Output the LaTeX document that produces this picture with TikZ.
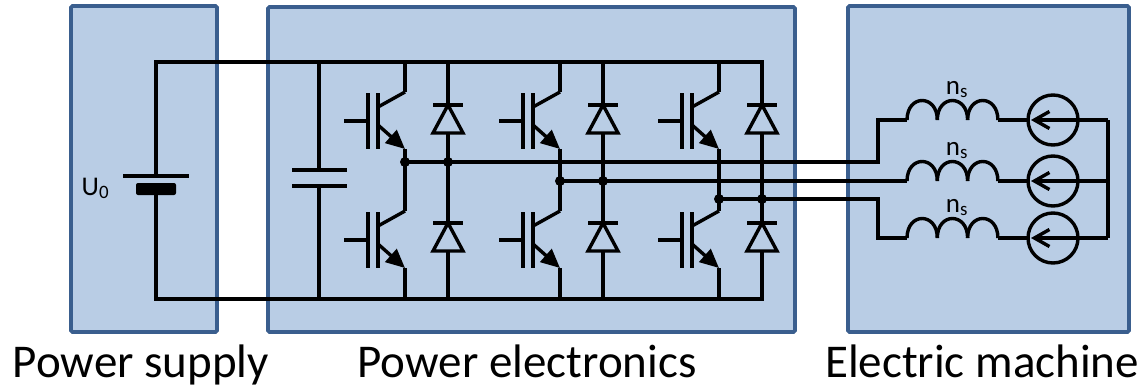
\documentclass[tikz,border=0pt]{standalone}
\usepackage{fontspec}
\setmainfont{Carlito}
\usepackage{tikz}
\usetikzlibrary{arrows.meta}
\definecolor{boxfill}{HTML}{B9CDE5}
\definecolor{boxline}{HTML}{3A5E8E}
\tikzset{>={Stealth[scale=1]}}
\tikzset{
    block/.style={fill=boxfill, draw=boxline, line width=3.6pt, rounded corners=1.5pt},
    junction/.style={circle, fill, inner sep=0pt, minimum size=10pt},
    caption/.style={font=\fontsize{47}{56}\selectfont, anchor=base, inner sep=0pt},
    lbl/.style={font=\fontsize{27}{30}\selectfont, inner sep=0pt},
    igbt/.pic={
        \draw (-27,15) -- (0,0);
        \draw[-{Triangle[length=19pt,width=17pt]}] (-27,33) -- (0,57);
        \draw (-27,1) -- (-27,57);
        \draw (-37,1) -- (-37,57);
        \draw (-37,29) -- (-61,29);
    },
    diode/.pic={
        \draw (-15,0) -- (15,0);
        \draw (0,0) -- (-15,28) -- (15,28) -- cycle;
    },
    coil/.pic={
        \foreach \k in {0,1,2}
            \draw ({\k*30.3},0) .. controls ({\k*30.3},-26) and ({\k*30.3+30.3},-26) .. ({\k*30.3+30.3},0);
    },
    emf/.pic={
        \draw (0,0) circle[radius=25];
        \draw[-{Straight Barb[length=15pt,width=17pt]}] (25,0) -- (-22,0);
    }
}
\begin{document}
\begin{tikzpicture}[x=1pt, y=-1pt, line width=3.4pt]
    \useasboundingbox (0,0) rectangle (1147,388);

    % blocks
    \draw[block] (71,6) rectangle (217,332);
    \draw[block] (268,7) rectangle (795,332);
    \draw[block] (848,6) rectangle (1129,332);

    \node[caption] (ps) at (141,377) {Power supply};
    \node[caption] (pe) at (527,377) {Power electronics};
    \node[caption] (em) at (982,377) {Electric machine};

    % supply and dc link
    \coordinate (bt) at (156,176);
    \coordinate (bb) at (156,195);
    \draw (bt) -- (156,62) -- (762,62) -- (762,105);
    \draw (bb) -- (156,299) -- (762,299) -- (762,251);
    \draw (123,176) -- (189,176);
    \fill[rounded corners=2pt] (136,183) rectangle (176,195);
    \node[lbl, anchor=base west] (u0) at (80,195) {U\textsubscript{0}};

    \draw (319,62) -- (319,170) (292,170) -- (347,170);
    \draw (292,186) -- (347,186) (319,186) -- (319,299);

    % inverter legs and machine phases
    \foreach \i/\x/\d/\m/\c in {1/405/448/162/120, 2/560/603/181/181, 3/719/762/199/238} {
        \draw (\x,62) -- (\x,92) (\x,149) -- (\x,211) (\x,268) -- (\x,299);
        \pic at (\x,92) {igbt};
        \pic at (\x,211) {igbt};
        \draw (\d,62) -- (\d,105) (\d,133) -- (\d,223) (\d,251) -- (\d,299);
        \pic at (\d,105) {diode};
        \pic at (\d,223) {diode};
        \node[junction] (s\i) at (\x,\m) {};
        \node[junction] (k\i) at (\d,\m) {};
        \coordinate (w\i) at (907,\c);
        \draw (s\i.center) -- (k\i.center) -- (878,\m) -- (878,\c) -- (w\i);
        \pic at (w\i) {coil};
        \draw (998,\c) -- (1028,\c) (1078,\c) -- (1108,\c);
        \pic at (1053,\c) {emf};
        \node[lbl, anchor=base] (n\i) at (957,\c-26) {n\textsubscript{s}};
    }
    \draw (1108,120) -- (1108,238);
\end{tikzpicture}
\end{document}
